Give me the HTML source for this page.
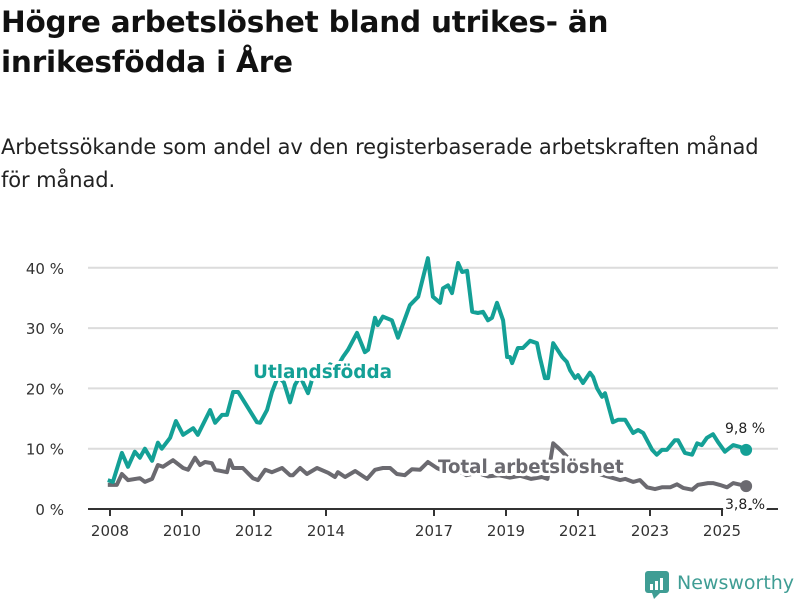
<!DOCTYPE html>
<html><head><meta charset="utf-8"><style>
body{margin:0;width:800px;height:600px;background:#fff;font-family:"DejaVu Sans","Liberation Sans",sans-serif;overflow:hidden;position:relative}
h1{position:absolute;left:1px;top:2px;margin:0;font-size:29.5px;line-height:40px;font-weight:bold;color:#111;width:799px;letter-spacing:-0.2px;white-space:nowrap}
.sub{position:absolute;left:1px;top:131px;font-size:21px;line-height:33px;color:#222;width:799px;letter-spacing:-0.1px;white-space:nowrap}
svg{position:absolute;left:0;top:0}
</style></head><body>
<h1>Högre arbetslöshet bland utrikes- än<br>inrikesfödda i Åre</h1>
<div class="sub">Arbetssökande som andel av den registerbaserade arbetskraften månad<br>för månad.</div>
<svg id="chart" width="800" height="600" font-family="DejaVu Sans, sans-serif"></svg>
<script>
const uYears=[2007.94,2008.08,2008.33,2008.5,2008.69,2008.83,2008.97,2009.17,2009.33,2009.44,2009.67,2009.83,2010.03,2010.31,2010.44,2010.78,2010.92,2011.11,2011.25,2011.42,2011.56,2011.75,2012.08,2012.17,2012.36,2012.5,2012.67,2012.83,2013.0,2013.14,2013.28,2013.5,2013.69,2013.89,2014.11,2014.31,2014.47,2014.61,2014.86,2015.08,2015.17,2015.36,2015.44,2015.58,2015.83,2016.0,2016.33,2016.56,2016.83,2016.97,2017.17,2017.25,2017.39,2017.5,2017.67,2017.78,2017.92,2018.06,2018.22,2018.36,2018.5,2018.61,2018.75,2018.92,2019.03,2019.11,2019.17,2019.33,2019.47,2019.67,2019.86,2019.94,2020.08,2020.17,2020.31,2020.56,2020.69,2020.78,2020.92,2021.0,2021.14,2021.33,2021.42,2021.53,2021.67,2021.75,2021.97,2022.11,2022.31,2022.53,2022.67,2022.81,2023.06,2023.19,2023.33,2023.47,2023.69,2023.78,2023.97,2024.17,2024.31,2024.44,2024.58,2024.75,2024.89,2025.08,2025.31,2025.5,2025.67];
const uValues=[4.8,4.5,9.3,7,9.5,8.5,10,8,11,10,11.8,14.6,12.3,13.4,12.3,16.4,14.3,15.6,15.6,19.4,19.4,17.6,14.4,14.3,16.4,19.4,22,21,17.7,20.6,22,19.2,23,22,24,23.5,25.2,26.4,29.2,26,26.4,31.7,30.5,31.9,31.3,28.4,33.8,35.2,41.6,35.2,34.2,36.6,37.1,35.8,40.8,39.3,39.5,32.7,32.5,32.7,31.3,31.7,34.2,31.3,25.2,25.2,24.2,26.7,26.7,27.9,27.5,25.2,21.7,21.7,27.5,25.2,24.4,23,21.7,22.2,20.9,22.6,21.9,20,18.6,19.2,14.4,14.8,14.8,12.6,13.1,12.6,9.8,9,9.8,9.8,11.4,11.4,9.3,9,10.9,10.6,11.8,12.4,11.1,9.5,10.6,10.3,9.8];
const tYears=[2007.94,2008.19,2008.33,2008.5,2008.83,2008.97,2009.17,2009.33,2009.47,2009.75,2010.03,2010.17,2010.36,2010.5,2010.64,2010.83,2010.92,2011.25,2011.33,2011.42,2011.69,2011.97,2012.11,2012.31,2012.5,2012.78,2013.0,2013.08,2013.28,2013.47,2013.75,2014.06,2014.25,2014.33,2014.53,2014.81,2015.14,2015.36,2015.58,2015.78,2015.97,2016.19,2016.39,2016.61,2016.83,2017.08,2017.3,2017.6,2017.9,2018.2,2018.5,2018.8,2019.1,2019.4,2019.7,2020.0,2020.15,2020.31,2020.44,2020.56,2020.8,2021.0,2021.3,2021.5,2021.7,2022.17,2022.31,2022.53,2022.72,2022.92,2023.14,2023.33,2023.56,2023.75,2023.92,2024.17,2024.33,2024.61,2024.75,2024.94,2025.14,2025.31,2025.67];
const tValues=[4,4,5.8,4.8,5.1,4.5,5,7.3,7,8.1,6.8,6.5,8.5,7.3,7.8,7.6,6.5,6.1,8.1,6.8,6.8,5.1,4.8,6.5,6.1,6.8,5.6,5.6,6.8,5.8,6.8,6,5.3,6.1,5.3,6.3,5,6.5,6.8,6.8,5.8,5.6,6.6,6.5,7.8,6.8,6.2,6.6,5.6,6.0,5.4,5.6,5.2,5.5,5.0,5.3,5.0,10.9,10.2,9.5,8.0,7.2,6.5,6.0,5.6,4.8,5,4.5,4.8,3.6,3.3,3.6,3.6,4.1,3.5,3.2,4,4.3,4.3,4,3.6,4.3,3.8];
const yTicks=[0,10,20,30,40];
const yTickLabels=["0 %","10 %","20 %","30 %","40 %"];
const xTicks=[2008,2010,2012,2014,2017,2019,2021,2023,2025];

const NS="http://www.w3.org/2000/svg";
const svg=document.getElementById('chart');
const X=y=>110+(y-2008)*36;
const Y=v=>509-v*6.03;
function mk(tag,attrs,txt){const e=document.createElementNS(NS,tag);for(const k in attrs)e.setAttribute(k,attrs[k]);if(txt!=null)e.textContent=txt;svg.appendChild(e);return e;}
yTicks.forEach((t,i)=>{
  if(t>0){const g=mk('line',{x1:88,x2:778,y1:Y(t),y2:Y(t),stroke:'#dcdcdc','stroke-width':2});
  
  }
  const l=mk('text',{x:64,y:Y(t)+6,'text-anchor':'end','font-size':15,fill:'#333'},yTickLabels[i]);
  
  
});
const ax=mk('line',{x1:88,x2:778,y1:509,y2:509,stroke:'#333','stroke-width':2});


xTicks.forEach(t=>{
  const tk=mk('line',{x1:X(t),x2:X(t),y1:509,y2:516,stroke:'#333','stroke-width':2});
  
  
  const l=mk('text',{x:X(t),y:536,'text-anchor':'middle','font-size':15,fill:'#333'},String(t));
  
  
});
function line(ys,vs,color,name){
  const d=ys.map((y,i)=>(i?'L':'M')+X(y).toFixed(1)+','+Y(vs[i]).toFixed(1)).join('');
  const p=mk('path',{d:d,fill:'none',stroke:color,'stroke-width':4,'stroke-linejoin':'round'});
  
  
  const n=ys.length-1;
  const c=mk('circle',{cx:X(ys[n]),cy:Y(vs[n]),r:6,fill:color});
  
  
}
line(tYears,tValues,'#6b6a70','total-line');
line(uYears,uValues,'#14a096','utlandsfodda-line');
function lbl(x,y,txt,color,name,size,bold){
  const t=mk('text',{x:x,y:y,'font-size':size,'font-weight':bold?'bold':'normal',fill:color,stroke:'#fff','stroke-width':6,'paint-order':'stroke','stroke-linejoin':'round'},txt);
  
  
}
lbl(253,378,'Utlandsfödda','#14a096','utlandsfodda-label',18.4,true);
lbl(438,473,'Total arbetslöshet','#6b6a70','total-label',18.2,true);
lbl(725,433,'9,8 %','#222','utlandsfodda-end-value',14,false);
lbl(725,509,'3,8 %','#222','total-end-value',14,false);
</script>
<svg width="800" height="600" style="pointer-events:none">
<rect x="645" y="571" width="24" height="22" rx="3" fill="#3f9d94"/>
<polygon points="652,593 660,593 654,599" fill="#3f9d94"/>
<rect x="650" y="584" width="3" height="6" fill="#fff"/><rect x="655" y="581" width="3" height="9" fill="#fff"/><rect x="660" y="578" width="3" height="12" fill="#fff"/>
<text x="677" y="589" font-size="19" fill="#3f9d94" font-family="DejaVu Sans, sans-serif">Newsworthy</text>
</svg>
</body></html>
